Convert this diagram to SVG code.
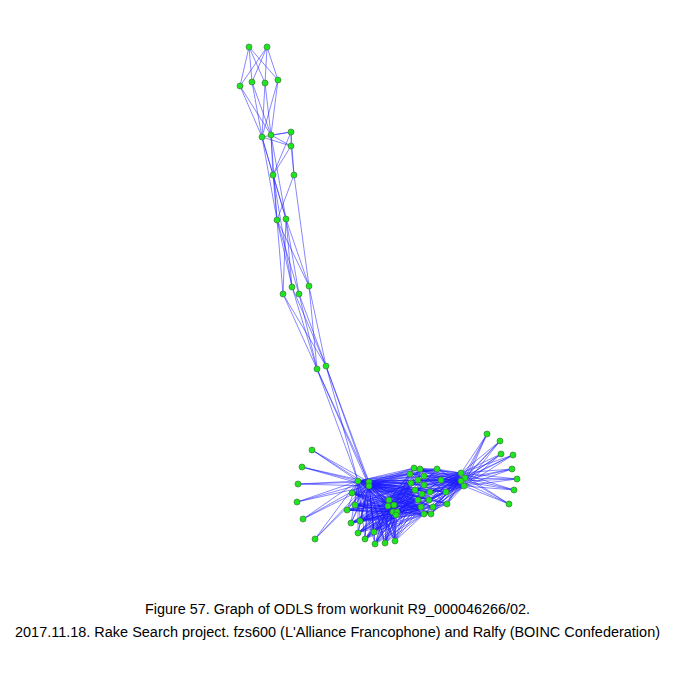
<svg xmlns="http://www.w3.org/2000/svg" width="675" height="675" viewBox="0 0 675 675">
<style>
.e{fill:none;stroke:#1a1aff;stroke-width:0.75;stroke-opacity:0.7}
.n circle{fill:#1ee61e;stroke:#3f7a3f;stroke-width:0.7}
.t{font-family:"Liberation Sans",Arial,sans-serif;font-size:14px;fill:#000;text-anchor:middle}
</style>
<rect width="675" height="675" fill="#fff"/>
<g id="connectors">
<path class="e" d="M249 47L240 86M249 47L252 82M249 47L265 83M249 47L278 80M267 47L240 86M267 47L252 82M267 47L265 83M267 47L278 80
M240 86L262 137M240 86L271 135M252 82L262 137M252 82L271 135M265 83L262 137M265 83L271 135M278 80L262 137M278 80L271 135
M262 137L291 132M271 135L291 132M262 137L291 146M271 135L291 146M291 132L291 146
M262 137L273 175M271 135L273 175M291 132L273 175M291 146L273 175M291 146L294 175M291 132L294 175
M262 137L277 220M262 137L286 219M271 135L277 220M271 135L286 219
M273 175L286 219M294 175L277 220M273 175L277 220
M277 220L283 294M277 220L292 287M277 220L299 294M277 220L309 286M286 219L283 294M286 219L292 287M286 219L299 294M286 219L309 286
M273 175L292 287M294 175L309 286
M283 294L317 369M283 294L326 366M292 287L317 369M292 287L326 366M299 294L317 369M299 294L326 366M309 286L317 369M309 286L326 366
M317 369L358 481M317 369L369 482M317 369L369 486M326 366L358 481M326 366L369 482M326 366L369 486"/>
<path class="e" d="M358 481L312 450M369 482L312 450M369 486L312 450M358 481L302 467M369 482L302 467M369 486L302 467M358 481L298 484M369 482L298 484M369 486L298 484M358 481L297 502M369 482L297 502M369 486L297 502M358 481L303 519M369 482L303 519M369 486L303 519M358 481L315 539M369 482L315 539M369 486L315 539"/>
<path class="e" d="M358 481L352 493M358 481L347 510M358 481L355 505M358 481L351 523M358 481L360 521M358 481L358 533M358 481L365 539M358 481L374 532M358 481L375 544M358 481L385 543M358 481L395 541
M369 482L352 493M369 482L347 510M369 482L355 505M369 482L351 523M369 482L360 521M369 482L358 533M369 482L365 539M369 482L374 532M369 482L375 544M369 482L385 543M369 482L395 541
M369 486L352 493M369 486L347 510M369 486L355 505M369 486L351 523M369 486L360 521M369 486L358 533M369 486L365 539M369 486L374 532M369 486L375 544M369 486L385 543M369 486L395 541"/>
<path class="e" d="M358 481L389 500M358 481L394 505M358 481L388 506M358 481L393 512M358 481L397 512M358 481L396 515M369 482L389 500M369 482L394 505M369 482L388 506M369 482L393 512M369 482L397 512M369 482L396 515M369 486L389 500M369 486L394 505M369 486L388 506M369 486L393 512M369 486L397 512M369 486L396 515"/>
<path class="e" d="M358 481L414 468M358 481L420 469M358 481L437 469M358 481L410 474M358 481L424 476M358 481L418 480M358 481L441 480M358 481L411 483M358 481L424 485M358 481L415 490M358 481L422 494M358 481L430 492M358 481L446 492M358 481L418 500M358 481L429 500M358 481L447 504M358 481L421 507M358 481L433 507M358 481L424 514M358 481L431 514
M369 482L414 468M369 482L420 469M369 482L437 469M369 482L410 474M369 482L424 476M369 482L418 480M369 482L441 480M369 482L411 483M369 482L424 485M369 482L415 490M369 482L422 494M369 482L430 492M369 482L446 492M369 482L418 500M369 482L429 500M369 482L447 504M369 482L421 507M369 482L433 507M369 482L424 514M369 482L431 514
M369 486L414 468M369 486L420 469M369 486L437 469M369 486L410 474M369 486L424 476M369 486L418 480M369 486L441 480M369 486L411 483M369 486L424 485M369 486L415 490M369 486L422 494M369 486L430 492M369 486L446 492M369 486L418 500M369 486L429 500M369 486L447 504M369 486L421 507M369 486L433 507M369 486L424 514M369 486L431 514"/>
<path class="e" d="M352 493L389 500M352 493L394 505M352 493L388 506M352 493L393 512M352 493L397 512M352 493L396 515
M347 510L389 500M347 510L394 505M347 510L388 506M347 510L393 512M347 510L397 512M347 510L396 515
M355 505L389 500M355 505L394 505M355 505L388 506M355 505L393 512M355 505L397 512M355 505L396 515
M351 523L389 500M351 523L394 505M351 523L388 506M351 523L393 512M351 523L397 512M351 523L396 515
M360 521L389 500M360 521L394 505M360 521L388 506M360 521L393 512M360 521L397 512M360 521L396 515
M358 533L389 500M358 533L394 505M358 533L388 506M358 533L393 512M358 533L397 512M358 533L396 515
M365 539L389 500M365 539L394 505M365 539L388 506M365 539L393 512M365 539L397 512M365 539L396 515
M374 532L389 500M374 532L394 505M374 532L388 506M374 532L393 512M374 532L397 512M374 532L396 515
M375 544L389 500M375 544L394 505M375 544L388 506M375 544L393 512M375 544L397 512M375 544L396 515
M385 543L389 500M385 543L394 505M385 543L388 506M385 543L393 512M385 543L397 512M385 543L396 515
M395 541L389 500M395 541L394 505M395 541L388 506M395 541L393 512M395 541L397 512M395 541L396 515"/>
<path class="e" d="M352 493L411 483M352 493L415 490M352 493L418 500M352 493L421 507M352 493L424 514
M347 510L411 483M347 510L415 490M347 510L418 500M347 510L421 507M347 510L424 514
M355 505L411 483M355 505L415 490M355 505L418 500M355 505L421 507M355 505L424 514
M351 523L411 483M351 523L415 490M351 523L418 500M351 523L421 507M351 523L424 514
M360 521L411 483M360 521L415 490M360 521L418 500M360 521L421 507M360 521L424 514
M358 533L411 483M358 533L415 490M358 533L418 500M358 533L421 507M358 533L424 514
M365 539L411 483M365 539L415 490M365 539L418 500M365 539L421 507M365 539L424 514
M374 532L411 483M374 532L415 490M374 532L418 500M374 532L421 507M374 532L424 514
M375 544L411 483M375 544L415 490M375 544L418 500M375 544L421 507M375 544L424 514
M385 543L411 483M385 543L415 490M385 543L418 500M385 543L421 507M385 543L424 514
M395 541L411 483M395 541L415 490M395 541L418 500M395 541L421 507M395 541L424 514"/>
<path class="e" d="M389 500L414 468M389 500L410 474M389 500L418 480M389 500L424 485M389 500L422 494M389 500L429 500M389 500L433 507M389 500L431 514
M394 505L414 468M394 505L410 474M394 505L418 480M394 505L424 485M394 505L422 494M394 505L429 500M394 505L433 507M394 505L431 514
M388 506L420 469M388 506L424 476M388 506L411 483M388 506L415 490M388 506L418 500M388 506L421 507M388 506L424 514M388 506L430 492
M393 512L420 469M393 512L424 476M393 512L411 483M393 512L415 490M393 512L418 500M393 512L421 507M393 512L424 514M393 512L430 492
M397 512L437 469M397 512L441 480M397 512L446 492M397 512L447 504M397 512L429 500M397 512L433 507M397 512L431 514M397 512L422 494
M396 515L437 469M396 515L441 480M396 515L446 492M396 515L447 504M396 515L429 500M396 515L433 507M396 515L431 514M396 515L424 485"/>
<path class="e" d="M461 473L414 468M461 473L420 469M461 473L437 469M461 473L410 474M461 473L424 476M461 473L418 480M461 473L441 480M461 473L411 483M461 473L424 485M461 473L415 490M461 473L422 494M461 473L430 492M461 473L446 492M461 473L418 500M461 473L429 500M461 473L447 504M461 473L421 507M461 473L433 507M461 473L424 514M461 473L431 514
M465 478L414 468M465 478L420 469M465 478L437 469M465 478L410 474M465 478L424 476M465 478L418 480M465 478L441 480M465 478L411 483M465 478L424 485M465 478L415 490M465 478L422 494M465 478L430 492M465 478L446 492M465 478L418 500M465 478L429 500M465 478L447 504M465 478L421 507M465 478L433 507M465 478L424 514M465 478L431 514
M461 481L414 468M461 481L420 469M461 481L437 469M461 481L410 474M461 481L424 476M461 481L418 480M461 481L441 480M461 481L411 483M461 481L424 485M461 481L415 490M461 481L422 494M461 481L430 492M461 481L446 492M461 481L418 500M461 481L429 500M461 481L447 504M461 481L421 507M461 481L433 507M461 481L424 514M461 481L431 514
M464 486L414 468M464 486L420 469M464 486L437 469M464 486L410 474M464 486L424 476M464 486L418 480M464 486L441 480M464 486L411 483M464 486L424 485M464 486L415 490M464 486L422 494M464 486L430 492M464 486L446 492M464 486L418 500M464 486L429 500M464 486L447 504M464 486L421 507M464 486L433 507M464 486L424 514M464 486L431 514"/>
<path class="e" d="M414 468L437 469M420 469L441 480M410 474L437 469M424 476L446 492M418 480L441 480M411 483L446 492M424 485L447 504M415 490L430 492M422 494L447 504M418 500L433 507M429 500L446 492M421 507L431 514M424 514L447 504M414 468L424 485M420 469L418 500M410 474L422 494"/>
<path class="e" d="M461 473L487 434M465 478L487 434M461 481L487 434M464 486L487 434M461 473L500 441M465 478L500 441M461 481L500 441M464 486L500 441M461 473L501 454M465 478L501 454M461 481L501 454M464 486L501 454M461 473L513 455M465 478L513 455M461 481L513 455M464 486L513 455M461 473L512 469M465 478L512 469M461 481L512 469M464 486L512 469M461 473L517 479M465 478L517 479M461 481L517 479M464 486L517 479M461 473L514 490M465 478L514 490M461 481L514 490M464 486L514 490M461 473L509 504M465 478L509 504M461 481L509 504M464 486L509 504"/>
</g>
<g class="n">
<g id="a1"><circle cx="249" cy="47" r="3"/></g>
<g id="a2"><circle cx="267" cy="47" r="3"/></g>
<g id="b1"><circle cx="240" cy="86" r="3"/></g>
<g id="b2"><circle cx="252" cy="82" r="3"/></g>
<g id="b3"><circle cx="265" cy="83" r="3"/></g>
<g id="b4"><circle cx="278" cy="80" r="3"/></g>
<g id="c1"><circle cx="262" cy="137" r="3"/></g>
<g id="c2"><circle cx="271" cy="135" r="3"/></g>
<g id="c3"><circle cx="291" cy="132" r="3"/></g>
<g id="c4"><circle cx="291" cy="146" r="3"/></g>
<g id="d1"><circle cx="273" cy="175" r="3"/></g>
<g id="d2"><circle cx="294" cy="175" r="3"/></g>
<g id="e1"><circle cx="277" cy="220" r="3"/></g>
<g id="e2"><circle cx="286" cy="219" r="3"/></g>
<g id="f1"><circle cx="283" cy="294" r="3"/></g>
<g id="f2"><circle cx="292" cy="287" r="3"/></g>
<g id="f3"><circle cx="299" cy="294" r="3"/></g>
<g id="f4"><circle cx="309" cy="286" r="3"/></g>
<g id="g1"><circle cx="317" cy="369" r="3"/></g>
<g id="g2"><circle cx="326" cy="366" r="3"/></g>
<g id="h1"><circle cx="358" cy="481" r="3"/></g>
<g id="h2"><circle cx="369" cy="482" r="3"/></g>
<g id="h3"><circle cx="369" cy="486" r="3"/></g>
<g id="l1"><circle cx="312" cy="450" r="3"/></g>
<g id="l2"><circle cx="302" cy="467" r="3"/></g>
<g id="l3"><circle cx="298" cy="484" r="3"/></g>
<g id="l4"><circle cx="297" cy="502" r="3"/></g>
<g id="l5"><circle cx="303" cy="519" r="3"/></g>
<g id="l6"><circle cx="315" cy="539" r="3"/></g>
<g id="m1"><circle cx="352" cy="493" r="3"/></g>
<g id="m2"><circle cx="347" cy="510" r="3"/></g>
<g id="m3"><circle cx="355" cy="505" r="3"/></g>
<g id="m4"><circle cx="351" cy="523" r="3"/></g>
<g id="m5"><circle cx="360" cy="521" r="3"/></g>
<g id="m6"><circle cx="358" cy="533" r="3"/></g>
<g id="m7"><circle cx="365" cy="539" r="3"/></g>
<g id="m8"><circle cx="374" cy="532" r="3"/></g>
<g id="m9"><circle cx="375" cy="544" r="3"/></g>
<g id="m10"><circle cx="385" cy="543" r="3"/></g>
<g id="m11"><circle cx="395" cy="541" r="3"/></g>
<g id="k1"><circle cx="389" cy="500" r="3"/></g>
<g id="k2"><circle cx="394" cy="505" r="3"/></g>
<g id="k3"><circle cx="388" cy="506" r="3"/></g>
<g id="k4"><circle cx="393" cy="512" r="3"/></g>
<g id="k5"><circle cx="397" cy="512" r="3"/></g>
<g id="k6"><circle cx="396" cy="515" r="3"/></g>
<g id="p1"><circle cx="414" cy="468" r="3"/></g>
<g id="p2"><circle cx="420" cy="469" r="3"/></g>
<g id="p3"><circle cx="437" cy="469" r="3"/></g>
<g id="p4"><circle cx="410" cy="474" r="3"/></g>
<g id="p5"><circle cx="424" cy="476" r="3"/></g>
<g id="p6"><circle cx="418" cy="480" r="3"/></g>
<g id="p7"><circle cx="441" cy="480" r="3"/></g>
<g id="p8"><circle cx="411" cy="483" r="3"/></g>
<g id="p9"><circle cx="424" cy="485" r="3"/></g>
<g id="p10"><circle cx="415" cy="490" r="3"/></g>
<g id="p11"><circle cx="422" cy="494" r="3"/></g>
<g id="p12"><circle cx="430" cy="492" r="3"/></g>
<g id="p13"><circle cx="446" cy="492" r="3"/></g>
<g id="p14"><circle cx="418" cy="500" r="3"/></g>
<g id="p15"><circle cx="429" cy="500" r="3"/></g>
<g id="p16"><circle cx="447" cy="504" r="3"/></g>
<g id="p17"><circle cx="421" cy="507" r="3"/></g>
<g id="p18"><circle cx="433" cy="507" r="3"/></g>
<g id="p19"><circle cx="424" cy="514" r="3"/></g>
<g id="p20"><circle cx="431" cy="514" r="3"/></g>
<g id="r1"><circle cx="461" cy="473" r="3"/></g>
<g id="r2"><circle cx="465" cy="478" r="3"/></g>
<g id="r3"><circle cx="461" cy="481" r="3"/></g>
<g id="r4"><circle cx="464" cy="486" r="3"/></g>
<g id="s1"><circle cx="487" cy="434" r="3"/></g>
<g id="s2"><circle cx="500" cy="441" r="3"/></g>
<g id="s3"><circle cx="501" cy="454" r="3"/></g>
<g id="s4"><circle cx="513" cy="455" r="3"/></g>
<g id="s5"><circle cx="512" cy="469" r="3"/></g>
<g id="s6"><circle cx="517" cy="479" r="3"/></g>
<g id="s7"><circle cx="514" cy="490" r="3"/></g>
<g id="s8"><circle cx="509" cy="504" r="3"/></g>
</g>
<g id="caption">
<text class="t" x="337.5" y="614" textLength="385" lengthAdjust="spacingAndGlyphs">Figure 57. Graph of ODLS from workunit R9_000046266/02.</text>
<text class="t" x="337.5" y="637" textLength="645" lengthAdjust="spacingAndGlyphs">2017.11.18. Rake Search project. fzs600 (L'Alliance Francophone) and Ralfy (BOINC Confederation)</text>
</g>
</svg>
